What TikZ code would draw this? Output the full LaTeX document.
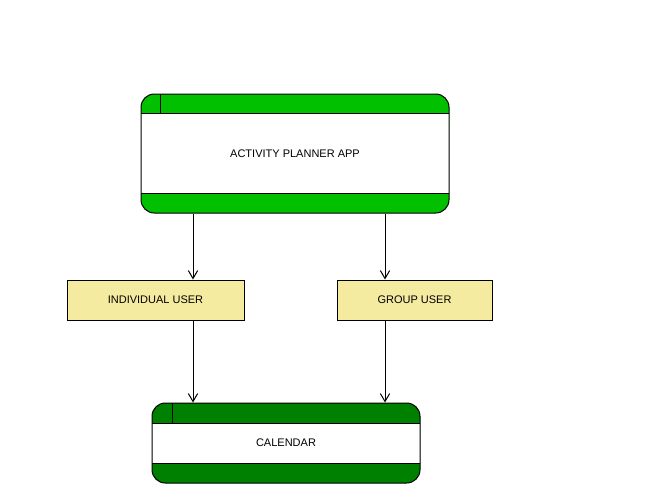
\documentclass[tikz,border=0pt]{standalone}
\usepackage{fontspec}
\setmainfont{Liberation Sans}
\usetikzlibrary{arrows.meta}

\definecolor{appgreen}{RGB}{0,192,0}
\definecolor{calgreen}{RGB}{0,128,0}
\definecolor{useryellow}{RGB}{245,235,160}

\tikzset{
    every node/.style={font=\fontsize{8.25}{10}\selectfont, inner sep=0pt},
    userbox/.style={draw, fill=useryellow, line width=0.75pt},
    flow/.style={line width=0.75pt, -{Straight Barb[length=6pt,width=7pt]}}
}

\begin{document}
\begin{tikzpicture}[x=0.75pt,y=-0.75pt,line width=0.75pt]
    \useasboundingbox[fill=white] (0,0) rectangle (648,497);

    % activity planner app
    \fill[appgreen, rounded corners=10] (141,94) rectangle (449,213);
    \fill[white] (141,113) rectangle (449,193);
    \draw[rounded corners=10] (141,94) rectangle (449,213);
    \draw (141,113) -- (449,113) (141,193) -- (449,193) (160.5,94) -- (160.5,113);
    \node[minimum width=231pt, minimum height=89.25pt] (app) at (295,153.5) {ACTIVITY PLANNER APP};

    % users
    \node[userbox, minimum width=132.75pt, minimum height=30pt] (ind) at (155.5,300) {INDIVIDUAL USER};
    \node[userbox, minimum width=116.25pt, minimum height=30pt] (grp) at (414.5,300) {GROUP USER};

    % calendar
    \fill[calgreen, rounded corners=10] (152,403) rectangle (420,483);
    \fill[white] (152,423.5) rectangle (420,463);
    \draw[rounded corners=10] (152,403) rectangle (420,483);
    \draw (152,423.5) -- (420,423.5) (152,463) -- (420,463) (172.5,403) -- (172.5,423.5);
    \node[minimum width=201pt, minimum height=60pt] (cal) at (286,443) {CALENDAR};

    \coordinate (left) at (193,0);
    \coordinate (right) at (385,0);

    \draw[flow] (app.south -| left) -- (ind.north -| left);
    \draw[flow] (app.south -| right) -- (grp.north -| right);
    \draw[flow] (ind.south -| left) -- (cal.north -| left);
    \draw[flow] (grp.south -| right) -- (cal.north -| right);
\end{tikzpicture}
\end{document}
